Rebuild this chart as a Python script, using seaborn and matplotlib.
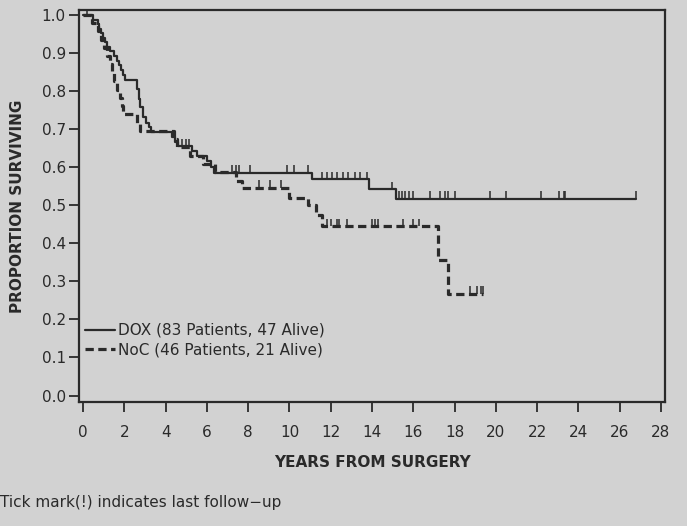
import numpy as np
import pandas as pd
import matplotlib
matplotlib.use("Agg")
import matplotlib.pyplot as plt
import seaborn as sns
from matplotlib.lines import Line2D

# ---------------- data ----------------
dox_times = [0.0, 0.5, 0.7, 0.78, 0.85, 0.95, 1.05, 1.15, 1.3, 1.5, 1.65, 1.75, 1.85,
             1.95, 2.02, 2.6, 2.7, 2.78, 2.9, 3.05, 3.2, 3.3, 4.3, 4.45, 4.6, 5.3,
             5.5, 6.0, 6.2, 6.35, 11.1, 13.85, 15.15, 26.8]
dox_surv = [1.0, 0.988, 0.976, 0.964, 0.952, 0.94, 0.928, 0.916, 0.904, 0.892, 0.88,
            0.868, 0.855, 0.843, 0.83, 0.805, 0.78, 0.757, 0.733, 0.717, 0.705, 0.693,
            0.68, 0.667, 0.655, 0.642, 0.63, 0.615, 0.60, 0.585, 0.568, 0.542, 0.517, 0.517]
dox_censor_t = [0.17, 4.8, 5.0, 5.15, 7.2, 7.4, 7.57, 8.1, 9.87, 10.2, 10.9,
                11.57, 11.8, 12.05, 12.3, 12.6, 12.86, 13.2, 13.43, 13.75,
                14.97, 15.3, 15.45, 15.6, 15.78, 16.0, 16.8, 17.3, 17.55, 17.7,
                18.0, 19.7, 20.5, 22.2, 23.06, 23.3, 23.35, 26.8]
dox_censor_s = [1.0, 0.655, 0.655, 0.655, 0.585, 0.585, 0.585, 0.585, 0.585, 0.585, 0.585,
                0.568, 0.568, 0.568, 0.568, 0.568, 0.568, 0.568, 0.568, 0.568,
                0.542, 0.517, 0.517, 0.517, 0.517, 0.517, 0.517, 0.517, 0.517, 0.517,
                0.517, 0.517, 0.517, 0.517, 0.517, 0.517, 0.517, 0.517]

noc_times = [0.0, 0.45, 0.7, 0.85, 1.0, 1.15, 1.3, 1.4, 1.5, 1.65, 1.8, 1.88, 1.92,
             2.6, 2.75, 4.4, 4.55, 5.2, 5.8, 6.4, 7.4, 7.7, 10.0, 10.9, 11.3, 11.6,
             17.2, 17.7, 19.4]
noc_surv = [1.0, 0.978, 0.957, 0.935, 0.913, 0.891, 0.87, 0.848, 0.826, 0.804, 0.782,
            0.76, 0.739, 0.717, 0.696, 0.674, 0.652, 0.63, 0.609, 0.587, 0.565, 0.546,
            0.52, 0.50, 0.475, 0.445, 0.356, 0.267, 0.267]
noc_censor_t = [8.5, 9.06, 9.6, 11.8, 12.0, 12.3, 12.4, 12.8, 14.0, 14.16, 14.3,
                15.5, 16.0, 16.26, 18.77, 19.1, 19.26, 19.4]
noc_censor_s = [0.546, 0.546, 0.546, 0.445, 0.445, 0.445, 0.445, 0.445, 0.445, 0.445, 0.445,
                0.445, 0.445, 0.445, 0.267, 0.267, 0.267, 0.267]

legend_labels = ["DOX (83 Patients, 47 Alive)", "NoC (46 Patients, 21 Alive)"]
x_ticks = list(range(0, 29, 2))
y_ticks = [0.0, 0.1, 0.2, 0.3, 0.4, 0.5, 0.6, 0.7, 0.8, 0.9, 1.0]

# ---------------- styling ----------------
sns.set_theme(style="white")
bg = "#d2d2d2"
ink = "#2a2a2a"
plt.rcParams["font.family"] = ["DejaVu Sans"]

fig = plt.figure(figsize=(6.87, 5.26), dpi=100, facecolor=bg)
ax = fig.add_axes([79 / 687, 1 - 402 / 526, (665 - 79) / 687, (402 - 10) / 526])
ax.set_facecolor(bg)

dox_df = pd.DataFrame({"t": dox_times, "s": dox_surv})
noc_df = pd.DataFrame({"t": noc_times, "s": noc_surv})

sns.lineplot(data=dox_df, x="t", y="s", ax=ax, drawstyle="steps-post",
             estimator=None, sort=False, color=ink, linewidth=1.6)
sns.lineplot(data=noc_df, x="t", y="s", ax=ax, drawstyle="steps-post",
             estimator=None, sort=False, color=ink, linewidth=2.3,
             linestyle=(0, (2.6, 1.4)))

tick_h = 0.02
ax.vlines(dox_censor_t, dox_censor_s, np.array(dox_censor_s) + tick_h, color=ink, linewidth=1.1)
ax.vlines(noc_censor_t, noc_censor_s, np.array(noc_censor_s) + tick_h, color=ink, linewidth=1.1)

ax.set_xlim(-0.2, 28.2)
ax.set_ylim(-0.017, 1.013)
ax.set_xticks(x_ticks)
ax.set_xticklabels([str(v) for v in x_ticks])
ax.set_yticks(y_ticks)
ax.set_yticklabels([f"{v:.1f}" for v in y_ticks])
ax.tick_params(axis="both", direction="out", length=7.5, width=1.3, color=ink,
               labelsize=11, labelcolor=ink, left=True, bottom=True)
ax.tick_params(axis="x", pad=9)
ax.tick_params(axis="y", pad=2)
for sp in ax.spines.values():
    sp.set_color(ink)
    sp.set_linewidth(1.6)
    sp.set_visible(True)

ax.set_xlabel("YEARS FROM SURGERY", fontsize=11, fontweight="bold", color=ink, labelpad=11)
ax.set_ylabel("PROPORTION SURVIVING", fontsize=11, fontweight="bold", color=ink, labelpad=12)

handles = [Line2D([], [], color=ink, linewidth=1.6),
           Line2D([], [], color=ink, linewidth=2.3, linestyle=(0, (2.6, 1.4)))]
ax.legend(handles, legend_labels, loc="lower left", bbox_to_anchor=(-0.006, 0.09),
          frameon=False, fontsize=11, handlelength=2.0, handletextpad=0.2,
          labelspacing=0.3, borderaxespad=0.2, labelcolor=ink)

fig.text(0.0, 1 - 503 / 526, "Tick mark(!) indicates last follow\u2212up", fontsize=11,
         color=ink, va="center", ha="left")

fig.savefig("out.png", dpi=100, facecolor=bg)
